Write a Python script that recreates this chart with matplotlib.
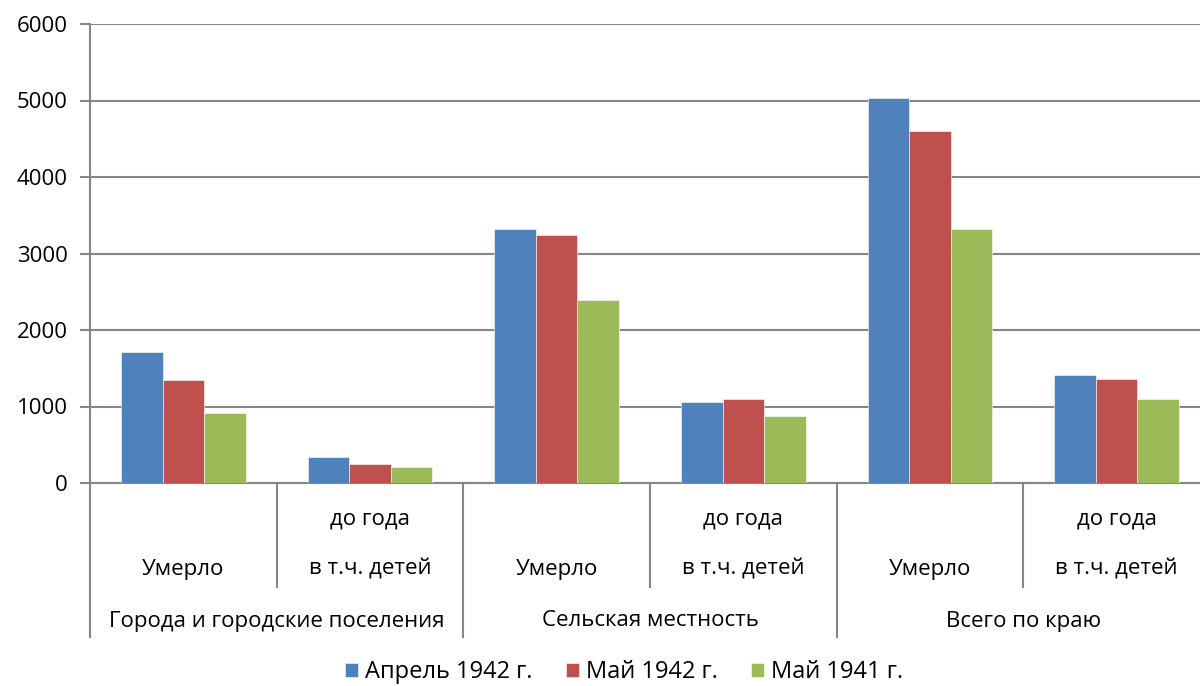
import numpy as np
import matplotlib
matplotlib.use("Agg")
import matplotlib.pyplot as plt
from matplotlib.transforms import blended_transform_factory

plt.rcParams['font.family'] = ['Open Sans', 'DejaVu Sans']

# Data
groups = ['Города и городские поселения', 'Сельская местность', 'Всего по краю']
subcats = ['Умерло', 'в т.ч. детей\nдо года']
series_names = ['Апрель 1942 г.', 'Май 1942 г.', 'Май 1941 г.']
april_1942 = [1713, 344, 3317, 1059, 5039, 1417]
may_1942 = [1351, 253, 3243, 1103, 4599, 1364]
may_1941 = [920, 209, 2398, 872, 3326, 1094]
colors = ['#4F81BD', '#C0504D', '#9BBB59']
yticks = [0, 1000, 2000, 3000, 4000, 5000, 6000]

W, H = 1200, 686
FS = 16
fig = plt.figure(figsize=(W / 100, H / 100), dpi=100)
ax = fig.add_axes([90 / W, 1 - 483 / H, (1210 - 90) / W, (483 - 24) / H])

n = len(april_1942)
x = np.arange(n) + 0.5
bw = 0.667 / 3
for k, vals in enumerate([april_1942, may_1942, may_1941]):
    ax.bar(x + (k - 1) * bw, vals, width=bw, color=colors[k],
           edgecolor='white', linewidth=0.4, label=series_names[k], zorder=3)

ax.set_xlim(0, n)
ax.set_ylim(0, 6000)
ax.set_yticks(yticks)
ax.yaxis.grid(True, color='#868686', linewidth=1.5, zorder=0)
ax.tick_params(axis='y', length=7, width=1.5, color='#868686', labelsize=FS, pad=9)
ax.set_xticks([])
for s in ['top', 'right']:
    ax.spines[s].set_visible(False)
for s in ['left', 'bottom']:
    ax.spines[s].set_color('#868686')
    ax.spines[s].set_linewidth(1.5)

# multi-level category axis
tr = blended_transform_factory(ax.transData, fig.transFigure)
fy = lambda p: 1 - p / H
for i in range(n + 1):
    bottom = 637 if i % 2 == 0 else 587
    ax.plot([i, i], [fy(483), fy(bottom)], transform=tr, color='#868686',
            linewidth=1.5, clip_on=False)
for i in range(n):
    sub = subcats[i % 2].split('\n')
    ax.text(i + 0.5, fy(569), sub[0], transform=tr, ha='center', va='center',
            fontsize=FS)
    if len(sub) > 1:
        ax.text(i + 0.5, fy(519), sub[1], transform=tr, ha='center',
                va='center', fontsize=FS)
for g, name in enumerate(groups):
    ax.text(2 * g + 1, fy(621), name, transform=tr, ha='center', va='center',
            fontsize=FS)

fig.legend(loc='center', bbox_to_anchor=(624 / W, fy(672)), ncol=3, frameon=False,
           fontsize=17, handlelength=0.55, handleheight=0.55, handletextpad=0.3,
           columnspacing=1.4)

fig.savefig('out.png', dpi=100)
